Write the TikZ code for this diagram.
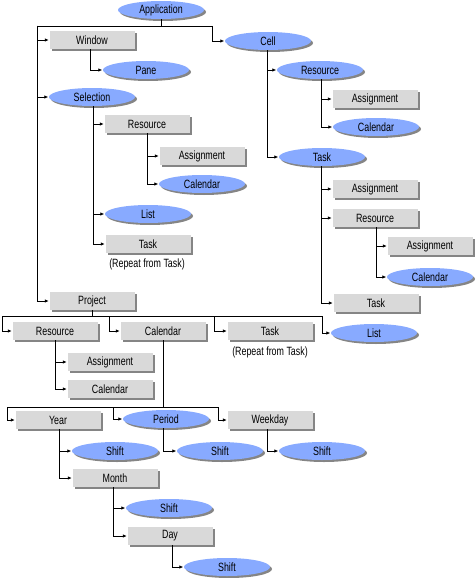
\documentclass[tikz,border=0pt]{standalone}
\usepackage{fontspec}
\setmainfont[FakeStretch=0.74]{Liberation Sans}
\usetikzlibrary{shapes.geometric,shadows,arrows.meta}
\definecolor{boxgray}{HTML}{D9D9D9}
\definecolor{ellblue}{HTML}{88AAFF}
\definecolor{shadowgray}{HTML}{858585}
\tikzset{
  base/.style={inner sep=0pt, font=\fontsize{12}{13}\selectfont, text=black,
    drop shadow={shadow xshift=2pt, shadow yshift=-2pt, fill=shadowgray, opacity=1}},
  box/.style={base, rectangle, fill=boxgray, minimum width=85pt, minimum height=18pt},
  ell/.style={base, ellipse, fill=ellblue, minimum width=86pt, minimum height=18pt},
  note/.style={inner sep=0pt, font=\fontsize{12}{13}\selectfont},
  arr/.style={line width=0.8pt, -{Latex[length=4pt,width=3.5pt]}, shorten >=0.5pt},
  ln/.style={line width=0.8pt}
}
\begin{document}
\begin{tikzpicture}[x=1pt,y=-1pt]
\useasboundingbox (0,0) rectangle (475,578);
% nodes
\node[ell] (app) at (161,10) {Application};
\node[box] (win) at (92,40) {Window};
\node[ell] (pane) at (146,70) {Pane};
\node[ell] (sel) at (92,97) {Selection};
\node[box] (sres) at (147,124) {Resource};
\node[box] (sasg) at (202,156) {Assignment};
\node[ell] (scal) at (202,184) {Calendar};
\node[ell] (slist) at (148,214) {List};
\node[box] (stask) at (148,244) {Task};
\node[note] (srep) at (147,264) {(Repeat from Task)};
\node[ell] (cell) at (268,41) {Cell};
\node[ell] (cres) at (320,70) {Resource};
\node[box] (casg) at (375,99) {Assignment};
\node[ell] (ccal) at (376,127) {Calendar};
\node[ell] (ctask) at (322,157) {Task};
\node[box] (tasg) at (375,189) {Assignment};
\node[box] (tres) at (375,218) {Resource};
\node[box] (trasg) at (430,246) {Assignment};
\node[ell] (trcal) at (430,277) {Calendar};
\node[box] (ttask) at (376,303) {Task};
\node[ell] (plist) at (374,333) {List};
\node[box] (proj) at (92,301) {Project};
\node[box] (pres) at (55,331) {Resource};
\node[box] (pcal) at (163,331) {Calendar};
\node[box] (ptask) at (270,331) {Task};
\node[note] (prep) at (270,352) {(Repeat from Task)};
\node[box] (prasg) at (110,362) {Assignment};
\node[box] (prcal) at (110,389) {Calendar};
\node[box] (year) at (58,420) {Year};
\node[ell] (period) at (166,419) {Period};
\node[box] (wday) at (270,420) {Weekday};
\node[ell] (yshift) at (115,451) {Shift};
\node[ell] (pshift) at (220,451) {Shift};
\node[ell] (wshift) at (322,451) {Shift};
\node[box] (month) at (115,478) {Month};
\node[ell] (mshift) at (169,508) {Shift};
\node[box] (day) at (170,536) {Day};
\node[ell] (dshift) at (227,567) {Shift};
% bus coordinates
\coordinate (appL) at (37,26);
\coordinate (appR) at (212,26);
\coordinate (pL) at (2,316);
\coordinate (pC) at (109,316);
\coordinate (pT) at (214,316);
\coordinate (pR) at (322,316);
\coordinate (cL) at (7,407);
\coordinate (cP) at (113,407);
\coordinate (cR) at (218,407);
% connectors
\draw[ln] (app.south) |- (appL);
\draw[ln] (app.south) |- (appR);
\draw[arr] (appL) |- (win.west);
\draw[arr] (appL) |- (sel.west);
\draw[arr] (appL) |- (proj.west);
\draw[arr] (appR) |- (cell.west);
\draw[arr] (win.south -| 90,0) |- (pane.west);
\draw[arr] (sel.south -| 93,0) |- (sres.west);
\draw[arr] (sel.south -| 93,0) |- (slist.west);
\draw[arr] (sel.south -| 93,0) |- (stask.west);
\draw[arr] (sres.south) |- (sasg.west);
\draw[arr] (sres.south) |- (scal.west);
\draw[arr] (cell.south -| 267,0) |- (cres.west);
\draw[arr] (cell.south -| 267,0) |- (ctask.west);
\draw[arr] (cres.south -| 321,0) |- (casg.west);
\draw[arr] (cres.south -| 321,0) |- (ccal.west);
\draw[arr] (ctask.south -| 321,0) |- (tasg.west);
\draw[arr] (ctask.south -| 321,0) |- (tres.west);
\draw[arr] (ctask.south -| 321,0) |- (ttask.west);
\draw[arr] (tres.south -| 376,0) |- (trasg.west);
\draw[arr] (tres.south -| 376,0) |- (trcal.west);
\draw[ln] (proj.south) |- (pL);
\draw[ln] (proj.south) |- (pR);
\draw[arr] (pL) |- (pres.west);
\draw[arr] (pC) |- (pcal.west);
\draw[arr] (pT) |- (ptask.west);
\draw[arr] (pR) |- (plist.west);
\draw[arr] (pres.south) |- (prasg.west);
\draw[arr] (pres.south) |- (prcal.west);
\draw[ln] (pcal.south) |- (cL);
\draw[ln] (pcal.south) |- (cR);
\draw[arr] (cL) |- (year.west);
\draw[arr] (cP) |- (period.west);
\draw[arr] (cR) |- (wday.west);
\draw[arr] (year.south -| 59,0) |- (yshift.west);
\draw[arr] (year.south -| 59,0) |- (month.west);
\draw[arr] (period.south -| 163,0) |- (pshift.west);
\draw[arr] (wday.south -| 267,0) |- (wshift.west);
\draw[arr] (month.south -| 113,0) |- (mshift.west);
\draw[arr] (month.south -| 113,0) |- (day.west);
\draw[arr] (day.south -| 172,0) |- (dshift.west);
\end{tikzpicture}
\end{document}
